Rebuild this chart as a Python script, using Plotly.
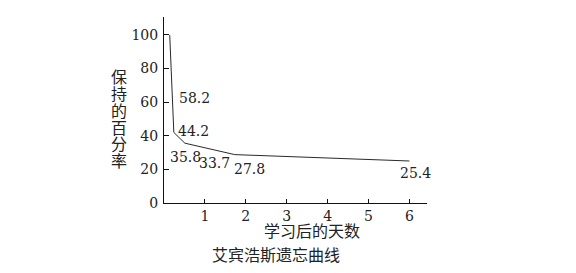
import plotly.graph_objects as go

# Curve vertices (days after learning, percent retained)
days = [0.14, 0.24, 0.51, 1.73, 6.0]
retained = [100, 42.0, 35.6, 28.8, 25.0]

# Value labels shown on the chart
label_texts = ["58.2", "44.2", "35.8", "33.7", "27.8", "25.4"]
# Anchors (left edge, middle) of each label in data units
label_x = [0.32, 0.29, 0.10, 0.81, 1.66, 5.73]
label_y = [62.3, 43.0, 27.6, 23.6, 20.0, 17.7]

x_ticks = [1, 2, 3, 4, 5, 6]
y_ticks = [0, 20, 40, 60, 80, 100]

x_title = "学习后的天数"
y_title = "保持的百分率"
chart_title = "艾宾浩斯遗忘曲线"

W, H = 576, 273
L, R, T, B = 164, 149, 17, 70

serif = "'DejaVu Serif', serif"
cjk = "Noto Sans CJK SC"
num_size = 14

fig = go.Figure()
fig.add_trace(go.Scatter(x=days, y=retained, mode="lines",
                         line=dict(color="#2a2a2a", width=1),
                         hoverinfo="skip", showlegend=False))

annotations = []
for t, xx, yy in zip(label_texts, label_x, label_y):
    annotations.append(dict(x=xx, y=yy, xref="x", yref="y", text=t,
                            showarrow=False, xanchor="left", yanchor="middle",
                            font=dict(family=serif, size=num_size, color="#222")))

# x axis title
annotations.append(dict(x=312 / W, y=1 - 230 / H, xref="paper", yref="paper",
                        text=x_title, showarrow=False, xanchor="center", yanchor="middle",
                        font=dict(family=cjk, size=16, color="#222")))
# chart caption
annotations.append(dict(x=276 / W, y=1 - 254 / H, xref="paper", yref="paper",
                        text=chart_title, showarrow=False, xanchor="center", yanchor="middle",
                        font=dict(family=cjk, size=16, color="#222")))
# vertical y title, one character per line
for i, ch in enumerate(y_title):
    cy = 76.5 + i * 16.7
    annotations.append(dict(x=119 / W, y=1 - cy / H, xref="paper", yref="paper",
                            text=ch, showarrow=False, xanchor="center", yanchor="middle",
                            font=dict(family=cjk, size=16, color="#222")))

# convert paper coords relative to plot area
pw = W - L - R
ph = H - T - B
for a in annotations:
    if a["xref"] == "paper":
        px = a["x"] * W
        py = (1 - a["y"]) * H
        a["x"] = (px - L) / pw
        a["y"] = 1 - (py - T) / ph

fig.update_layout(
    width=W, height=H,
    margin=dict(l=L, r=R, t=T, b=B, pad=0),
    paper_bgcolor="white", plot_bgcolor="white",
    font=dict(family=serif, size=num_size, color="#222"),
    annotations=annotations,
    xaxis=dict(range=[0, 6.43], tickvals=x_ticks, showgrid=False, zeroline=False,
               showline=True, linecolor="#111", linewidth=1,
               ticks="inside", ticklen=4, tickcolor="#111",
               tickfont=dict(family=serif, size=num_size, color="#222")),
    yaxis=dict(range=[0, 110.7], tickvals=y_ticks, showgrid=False, zeroline=False,
               showline=True, linecolor="#111", linewidth=1,
               ticks="inside", ticklen=5, tickcolor="#111",
               tickfont=dict(family=serif, size=num_size, color="#222"),
               ticklabelstandoff=2),
)

fig.write_html("out.html")
